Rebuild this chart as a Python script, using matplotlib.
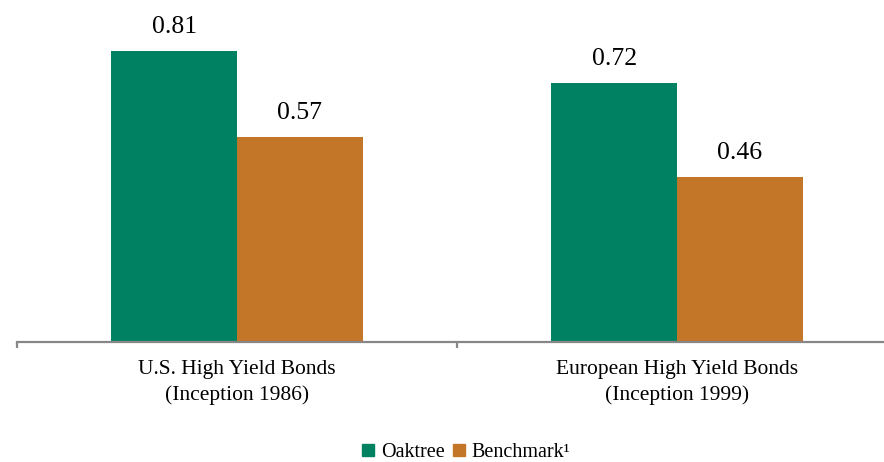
import matplotlib
matplotlib.use("Agg")
import matplotlib.pyplot as plt
import numpy as np
from matplotlib.lines import Line2D

categories = ["U.S. High Yield Bonds\n(Inception 1986)", "European High Yield Bonds\n(Inception 1999)"]
oaktree = [0.81, 0.72]
benchmark = [0.57, 0.46]
series_names = ["Oaktree", "Benchmark\u00b9"]
colors = ["#008262", "#C47628"]

plt.rcParams['font.family'] = ['Liberation Serif', 'DejaVu Serif']

fig = plt.figure(figsize=(8.84, 4.62), dpi=100)
W, H = 884, 462
left_px, base_px, group_px = 17, 342, 440
ax = fig.add_axes([left_px / W, 1 - base_px / H, 2 * group_px / W, base_px / H])

x = np.arange(len(categories))
bw = 0.286
b1 = ax.bar(x - bw / 2, oaktree, bw, color=colors[0], label=series_names[0])
b2 = ax.bar(x + bw / 2, benchmark, bw, color=colors[1], label=series_names[1])

for bars, vals in [(b1, oaktree), (b2, benchmark)]:
    for rect, v in zip(bars, vals):
        ax.annotate(f"{v:.2f}", (rect.get_x() + rect.get_width() / 2, v),
                    xytext=(0, 13), textcoords="offset points",
                    ha="center", va="baseline", fontsize=18.5)

ax.set_xlim(-0.5, 1.5)
ax.set_ylim(0, base_px / 359.5)

for s in ["top", "right", "left"]:
    ax.spines[s].set_visible(False)
ax.spines["bottom"].set_color("#878787")
ax.spines["bottom"].set_linewidth(1.6)
ax.set_yticks([])

ax.set_xticks(x)
ax.set_xticklabels(categories, fontsize=15.5, linespacing=1.42)
ax.tick_params(axis="x", which="major", length=0, pad=13)
ax.set_xticks([-0.5, 0.5, 1.5], minor=True)
ax.tick_params(axis="x", which="minor", length=4, width=1.6, color="#878787", direction="out")

handles = [Line2D([], [], marker="s", linestyle="none", markersize=8, color=c) for c in colors]
fig.legend(handles, series_names, loc="center", bbox_to_anchor=(465 / W, 1 - 452 / H),
           ncol=2, frameon=False, fontsize=14.5, handletextpad=0.25, columnspacing=0.3,
           handlelength=0.8)

fig.savefig("out.png", dpi=100)
